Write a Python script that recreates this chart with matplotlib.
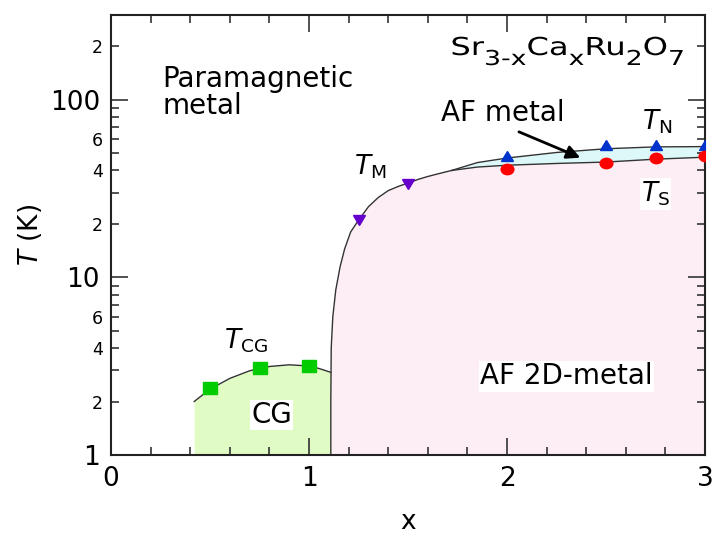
import matplotlib.pyplot as plt
from matplotlib.ticker import FixedLocator, FixedFormatter
from matplotlib.markers import MarkerStyle
from matplotlib.transforms import Affine2D
from matplotlib.textpath import TextPath, text_to_path
from matplotlib.font_manager import FontProperties
from matplotlib.patches import PathPatch
import numpy as np

plt.rcParams["font.family"] = ["DejaVu Sans"]
plt.rcParams["mathtext.fontset"] = "dejavusans"

# measured points
x_cg = [0.5, 0.75, 1.0]
t_cg = [2.39, 3.09, 3.19]
x_m = [1.25, 1.5]
t_m = [21.0, 33.7]
x_n = [2.0, 2.5, 2.75, 3.0]
t_n = [48.5, 55.5, 55.5, 55.5]
x_s = [2.0, 2.5, 2.75, 3.0]
t_s = [41.0, 43.9, 47.0, 48.5]

# phase boundaries
cg_bx = [0.42, 0.5, 0.6, 0.7, 0.8, 0.9, 1.0, 1.05, 1.11]
cg_bt = [2.0, 2.35, 2.7, 2.98, 3.15, 3.22, 3.17, 3.07, 2.92]
m_bx = [1.11, 1.11, 1.112, 1.12, 1.135, 1.157, 1.18, 1.21, 1.25, 1.3, 1.35, 1.4,
        1.45, 1.5, 1.55, 1.6, 1.66, 1.72]
m_bt = [1.0, 2.0, 4.0, 6.0, 8.5, 11.5, 14.5, 18.0, 21.0, 25.0, 28.2, 30.8,
        32.5, 34.0, 35.6, 37.0, 38.5, 40.0]
s_bx = [1.72, 1.85, 2.0, 2.25, 2.5, 2.75, 3.0]
s_bt = [40.0, 41.8, 42.8, 43.8, 44.6, 46.3, 47.5]
n_bx = [1.72, 1.85, 2.0, 2.25, 2.5, 2.75, 3.0]
n_bt = [40.0, 44.3, 47.0, 50.5, 53.0, 54.3, 54.5]

# formula pieces: (text, is_subscript)
formula = [("Sr", False), ("3-x", True), ("Ca", False), ("x", True),
           ("Ru", False), ("2", True), ("O", False), ("7", True)]

fig = plt.figure(figsize=(7.14, 5.37), dpi=100)
ax = fig.add_axes([0.1555, 0.1527, 0.832, 0.8193])
ax.set_yscale("log")
ax.set_xlim(0, 3)
ax.set_ylim(1, 300)

# fills
ax.fill_between(cg_bx + [1.11], cg_bt + [1.0], 1, color="#e0fcc4", lw=0)
afx = m_bx + s_bx[1:]
aft = m_bt + s_bt[1:]
ax.fill_between(afx, aft, 1, color="#fdeef5", lw=0)
ax.fill_between(s_bx, s_bt, n_bt, color="#ddf8f8", lw=0)

lc = "#333333"
ax.plot(cg_bx, cg_bt, color=lc, lw=1)
ax.plot(afx, aft, color=lc, lw=1)
ax.plot(n_bx, n_bt, color=lc, lw=1)

# the original picture is a bit stretched sideways, so are its symbols
wide = Affine2D().scale(1.22, 1.0)
ax.plot(x_cg, t_cg, ls="none", marker=MarkerStyle("s", transform=wide), color="#00cc00", ms=8, zorder=5)
ax.plot(x_m, t_m, ls="none", marker=MarkerStyle("v", transform=wide), color="#6600cc", ms=7, zorder=5)
ax.plot(x_n, t_n, ls="none", marker=MarkerStyle("^", transform=wide), color="#0033cc", ms=7, zorder=5)
ax.plot(x_s, t_s, ls="none", marker=MarkerStyle("o", transform=wide), color="#ff0000", ms=7.5, zorder=5)

# ticks
ax.xaxis.set_major_locator(FixedLocator([0, 1, 2, 3]))
ax.xaxis.set_minor_locator(FixedLocator(np.arange(0, 3.01, 0.2)))
ax.yaxis.set_major_locator(FixedLocator([1, 10, 100]))
ax.yaxis.set_major_formatter(FixedFormatter(["1", "10", "100"]))
minors = [2, 3, 4, 5, 6, 7, 8, 9, 20, 30, 40, 50, 60, 70, 80, 90, 200, 300]
ax.yaxis.set_minor_locator(FixedLocator(minors))
minor_lab = {2: "2", 4: "4", 6: "6", 20: "2", 40: "4", 60: "6", 200: "2"}
ax.yaxis.set_minor_formatter(FixedFormatter([minor_lab.get(v, "") for v in minors]))
ax.tick_params(which="both", direction="in", top=True, right=True, width=1.2, color="#333333")
ax.tick_params(which="major", length=12, labelsize=19, pad=8)
ax.tick_params(which="minor", length=6)
ax.tick_params(axis="y", which="minor", labelsize=12.5, pad=6)
for s in ax.spines.values():
    s.set_linewidth(1.5)
    s.set_color("#222222")

ax.set_xlabel("x", fontsize=19, labelpad=12)
ax.set_ylabel("$\\it{T}$ (K)", fontsize=19, labelpad=4)

# labels
ax.text(0.26, 110, "Paramagnetic\nmetal", fontsize=20, ha="left", va="center", linespacing=0.95)

# chemical formula, drawn as stretched glyph outlines (right edge at 685 px)
prop = FontProperties(family="DejaVu Sans")
main_pt, sub_pt, stretch = 17.8, 14.8, 1.3
widths = []
for txt, sub in formula:
    w, h, d = text_to_path.get_text_width_height_descent(txt, prop.copy(), ismath=False)
    widths.append(w * (sub_pt if sub else main_pt) / prop.get_size_in_points())
xpos = 685 - stretch * sum(widths) * 100 / 72
for (txt, sub), w in zip(formula, widths):
    size = sub_pt if sub else main_pt
    base = 537 - (65 if sub else 55)
    tp = TextPath((0, 0), txt, size=size, prop=prop)
    tr = Affine2D().scale(stretch * 100 / 72, 100 / 72).translate(xpos, base)
    fig.add_artist(PathPatch(tp, transform=tr, facecolor="black", edgecolor="none"))
    xpos += stretch * w * 100 / 72

ax.text(1.98, 84, "AF metal", fontsize=20, ha="center", va="center")
ax.annotate("", xy=(2.37, 47.2), xytext=(2.06, 66),
            arrowprops=dict(arrowstyle="-|>", color="black", lw=2, mutation_scale=20,
                            shrinkA=0, shrinkB=0))
ax.text(2.76, 75, "$\\it{T}_{\\mathregular{N}}$", fontsize=19, ha="center", va="center")
ax.text(2.75, 29.5, "$\\it{T}_{\\mathregular{S}}$", fontsize=19, ha="center", va="center",
        bbox=dict(facecolor="white", edgecolor="none", pad=1))
ax.text(1.31, 42, "$\\it{T}_{\\mathregular{M}}$", fontsize=19, ha="center", va="center")
ax.text(0.68, 4.4, "$\\it{T}_{\\mathregular{CG}}$", fontsize=19, ha="center", va="center")
ax.text(0.81, 1.68, "CG", fontsize=20, ha="center", va="center",
        bbox=dict(facecolor="white", edgecolor="none", pad=1))
ax.text(2.30, 2.78, "AF 2D-metal", fontsize=20, ha="center", va="center",
        bbox=dict(facecolor="white", edgecolor="none", pad=1))

plt.savefig("out.png", dpi=100)
